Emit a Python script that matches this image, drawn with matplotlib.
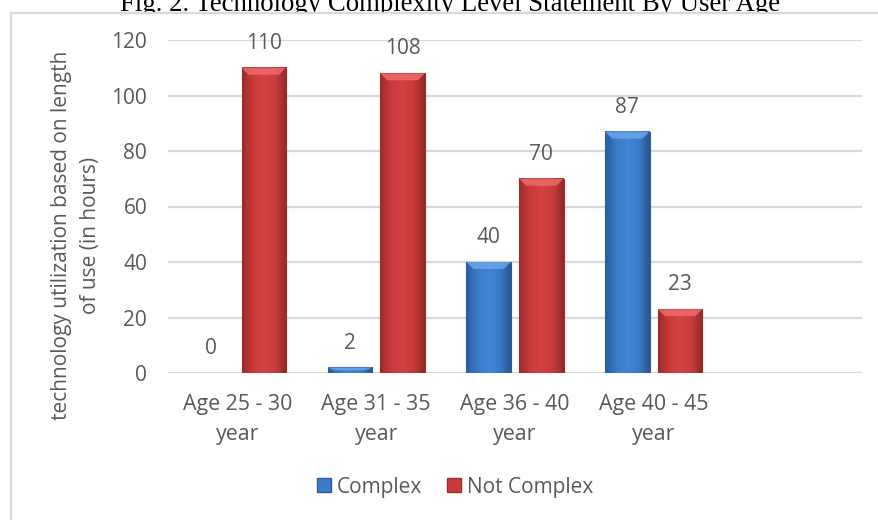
import numpy as np
import matplotlib
matplotlib.use('Agg')
import matplotlib.pyplot as plt
from matplotlib.colors import LinearSegmentedColormap
from matplotlib.patches import Rectangle, Polygon, Patch

# age groups (last slot is left empty on the axis)
age_groups = ['Age 25 - 30\nyear', 'Age 31 - 35\nyear', 'Age 36 - 40\nyear',
              'Age 40 - 45\nyear', '']
complex_hours = [0, 2, 40, 87]
not_complex_hours = [110, 108, 70, 23]
y_ticks = [0, 20, 40, 60, 80, 100, 120]

TXT = '#595959'
GRID = '#d9d9d9'
FS = 15
plt.rcParams['font.family'] = ['Open Sans', 'DejaVu Sans']

blue_cmap = LinearSegmentedColormap.from_list(
    'blue_bevel', ['#2b5d9c', '#3b7bc9', '#4286d6', '#3b7bc9', '#29568f'])
red_cmap = LinearSegmentedColormap.from_list(
    'red_bevel', ['#9c2c2c', '#c93b3b', '#d54242', '#c93b3b', '#922828'])

fig = plt.figure(figsize=(8.79, 5.2), dpi=100)
ax = fig.add_axes([168 / 879, 1 - 373 / 520, 694 / 879, 333 / 520])
ax.set_zorder(1)

x = np.arange(len(age_groups))
bar_w = 0.32
offset = 0.19
px_per_unit_y = 333 / 120.0
px_per_unit_x = 694 / 5.0


def bevel_bar(xc, h, cmap, top_col):
    x0, x1 = xc - bar_w / 2, xc + bar_w / 2
    if h <= 0:
        return
    grad = np.linspace(0, 1, 64).reshape(1, -1)
    ax.imshow(grad, cmap=cmap, extent=[x0, x1, 0, h], aspect='auto',
              zorder=3, interpolation='bicubic')
    ax.add_patch(Rectangle((x0, 0), bar_w, h, fill=False,
                           edgecolor=cmap(0.0), lw=0.8, zorder=4))
    # lighter bevel band on top of the bar
    bh = min(7 / px_per_unit_y, h / 2)
    bw = 7 / px_per_unit_x
    ax.add_patch(Polygon([[x0, h], [x1, h], [x1 - bw, h - bh], [x0 + bw, h - bh]],
                         closed=True, facecolor=top_col, edgecolor='none',
                         alpha=0.85, zorder=4))


for i in range(len(complex_hours)):
    bevel_bar(x[i] - offset, complex_hours[i], blue_cmap, '#6aa5ea')
    bevel_bar(x[i] + offset, not_complex_hours[i], red_cmap, '#ee6a6a')
    for xc, v in [(x[i] - offset, complex_hours[i]), (x[i] + offset, not_complex_hours[i])]:
        ax.annotate(str(v), (xc, v), xytext=(0, 17.5), textcoords='offset points',
                    ha='center', va='center', fontsize=FS, color=TXT)

ax.set_xlim(-0.5, len(age_groups) - 0.5)
ax.set_ylim(0, 120)
ax.set_yticks(y_ticks)
ax.set_xticks(x)
ax.set_xticklabels(age_groups, fontsize=15.4, linespacing=1.55)
ax.yaxis.grid(True, color=GRID, lw=1.6)
ax.set_axisbelow(True)
ax.patch.set_alpha(0)
for s in ax.spines.values():
    s.set_visible(False)
ax.tick_params(axis='both', length=0, labelcolor=TXT)
ax.tick_params(axis='y', pad=15, labelsize=FS)
ax.tick_params(axis='x', pad=15)

fig.text(76 / 879, 1 - 235 / 520,
         'technology utilization based on length\nof use (in hours)',
         rotation=90, ha='center', va='center', fontsize=FS, color=TXT,
         linespacing=1.5)

# title sits partly behind the chart box
fig.text(450 / 879, 1 - 11 / 520,
         'Fig. 2. Technology Complexity Level Statement By User Age',
         ha='center', va='baseline', fontsize=19.3, family='Liberation Serif',
         color='black', zorder=-2)

# chart box, open to the right and bottom
fig.patches.append(Rectangle((10.5 / 879, -0.2), 1.5, 1.2 - 13 / 520,
                             transform=fig.transFigure, facecolor='white',
                             edgecolor=GRID, lw=1.6, zorder=-1))

handles = [Patch(facecolor='#3b7bc9', edgecolor='#2b5d9c', label='Complex'),
           Patch(facecolor='#c93b3b', edgecolor='#9c2c2c', label='Not Complex')]
fig.legend(handles=handles, loc='center', ncol=2, frameon=False,
           bbox_to_anchor=(455 / 879, 1 - 487 / 520), fontsize=FS,
           labelcolor=TXT, handlelength=0.65, handleheight=0.65,
           handletextpad=0.3, columnspacing=1.2)

fig.savefig('out.png', dpi=100)
